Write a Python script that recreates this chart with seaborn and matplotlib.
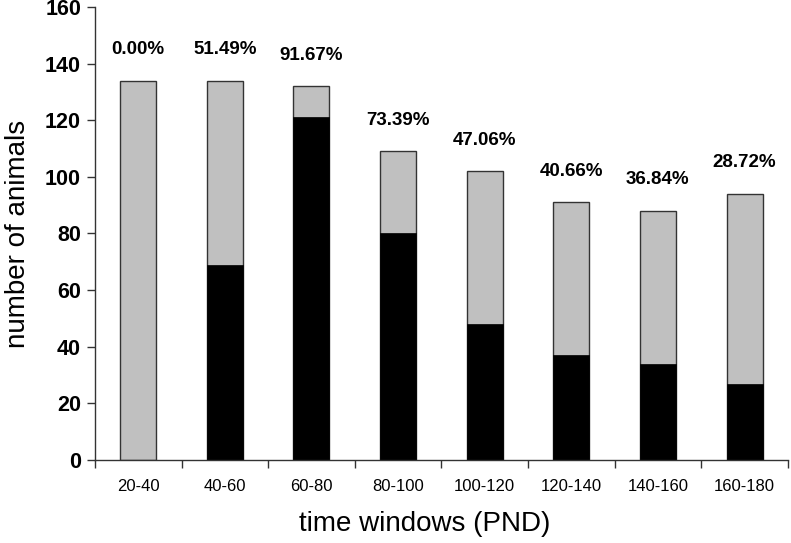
import numpy as np
import pandas as pd
import seaborn as sns
import matplotlib.pyplot as plt

windows = ["20-40", "40-60", "60-80", "80-100", "100-120", "120-140", "140-160", "160-180"]
total = [134, 134, 132, 109, 102, 91, 88, 94]
black = [0, 69, 121, 80, 48, 37, 34, 27]
pct_labels = ["0.00%", "51.49%", "91.67%", "73.39%", "47.06%", "40.66%", "36.84%", "28.72%"]

df = pd.DataFrame({"window": windows, "total": total, "black": black})

sns.set_style("white")
plt.rcParams['font.family'] = ['Liberation Sans', 'DejaVu Sans']
plt.rcParams['text.color'] = 'black'
plt.rcParams['axes.labelcolor'] = 'black'
plt.rcParams['xtick.color'] = 'black'
plt.rcParams['ytick.color'] = 'black'

fig = plt.figure(figsize=(7.91, 5.43), dpi=100)
ax = fig.add_axes([0.120, 0.153, 0.876, 0.834])

sns.barplot(data=df, x="window", y="total", color="#c0c0c0", width=0.415,
            edgecolor="#333333", linewidth=1.0, saturation=1, ax=ax)
sns.barplot(data=df, x="window", y="black", color="black", width=0.415,
            edgecolor="black", linewidth=0.5, saturation=1, ax=ax)

# percentage labels above each bar
for i, (t, lab) in enumerate(zip(total, pct_labels)):
    ax.text(i, t + 11, lab, ha="center", va="center", fontsize=13.5, fontweight="bold")

ax.set_xlim(-0.5, len(windows) - 0.5)
ax.set_ylim(0, 160)
ax.set_yticks(np.arange(0, 161, 20))
ax.set_yticklabels([str(v) for v in range(0, 161, 20)], fontsize=15.5, fontweight="bold")
ax.tick_params(axis="y", left=True, length=6, width=1, color="#333333", pad=4)

ax.set_xticks(range(len(windows)))
ax.set_xticklabels(windows, fontsize=12)
ax.tick_params(axis="x", which="major", bottom=False, length=0, pad=14)
ax.set_xticks(np.arange(-0.5, len(windows), 1), minor=True)
ax.tick_params(axis="x", which="minor", bottom=True, length=6, width=1, color="#333333")

for side in ["top", "right"]:
    ax.spines[side].set_visible(False)
for side in ["left", "bottom"]:
    ax.spines[side].set_color("#333333")
    ax.spines[side].set_linewidth(1)

ax.set_xlabel("time windows (PND)", fontsize=20)
ax.xaxis.set_label_coords(0.476, -0.113)
ax.set_ylabel("number of animals", fontsize=20, labelpad=10)

fig.savefig("out.png", dpi=100)
